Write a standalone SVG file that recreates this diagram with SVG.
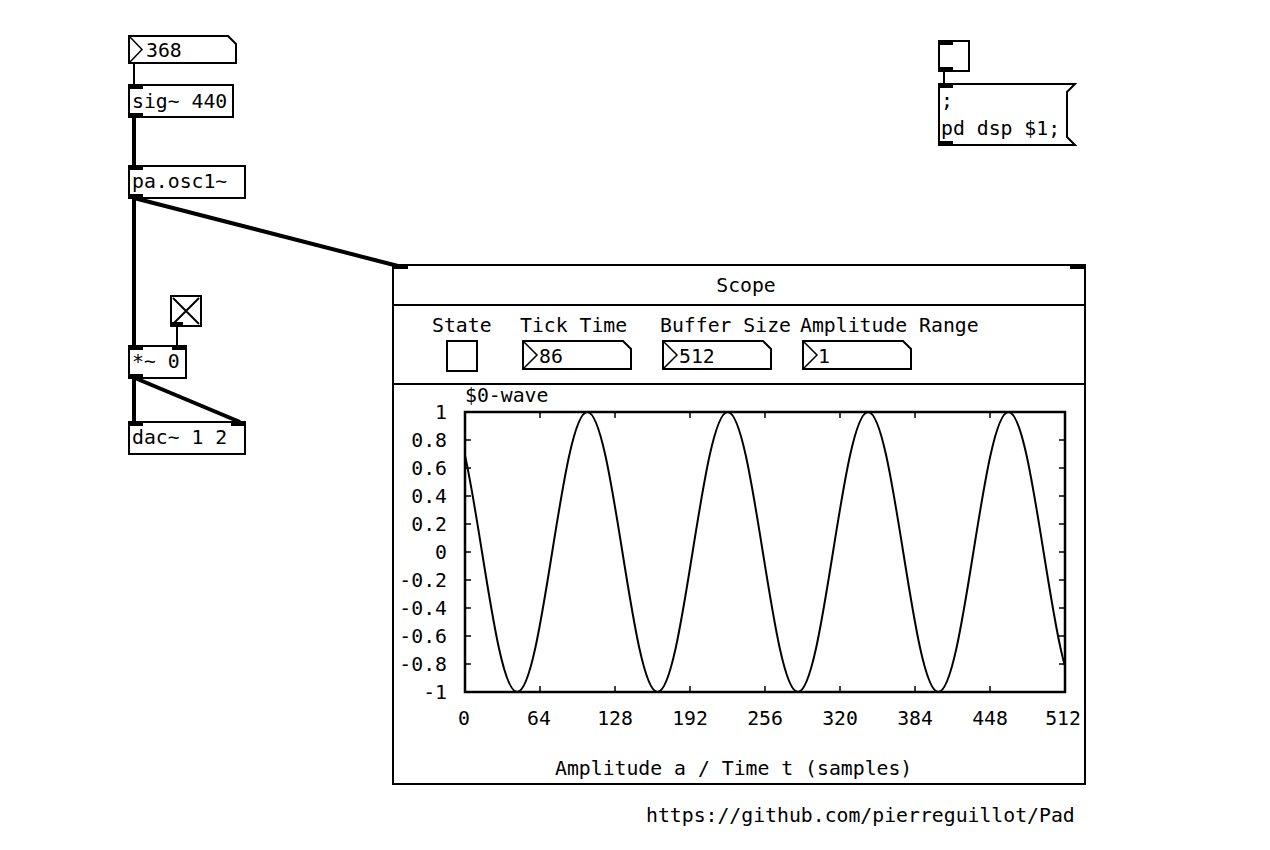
<svg xmlns="http://www.w3.org/2000/svg" width="1270" height="850" viewBox="0 0 1270 850">
<style>
.box{fill:#fff;stroke:#000;stroke-width:2}
.io{fill:#000}
.sig{stroke:#000;stroke-width:4;fill:none}
.ctl{stroke:#000;stroke-width:2;fill:none}
.thin{stroke:#000;stroke-width:1.5;fill:none}
.tick{stroke:#000;stroke-width:1.5;fill:none}
text{font-family:"DejaVu Sans Mono","Liberation Mono",monospace;font-size:19.8px;fill:#000}
.mid{text-anchor:middle}
.end{text-anchor:end}
</style>
<defs>
<clipPath id="graphclip"><rect x="465" y="400" width="600" height="300"/></clipPath>
</defs>
<rect width="1270" height="850" fill="#fff"/>

<g id="connectors">
<path class="ctl" d="M134,63 V85"/>
<path class="sig" d="M134,117 V166"/>
<path class="sig" d="M134,198 V346"/>
<path class="sig" d="M134,198 L398,266"/>
<path class="ctl" d="M177,326 V346"/>
<path class="sig" d="M134,378 V422"/>
<path class="sig" d="M135,378 L240,422"/>
<path class="ctl" d="M944,71 V84"/>
</g>

<g id="num368">
<path class="box" d="M129,36 H228 L236,44 V63 H129 Z"/>
<path class="thin" d="M130,37 L142,49.5 L130,62"/>
<text x="146" y="57">368</text>
</g>

<g id="sig440">
<rect class="box" x="129" y="85" width="104" height="32"/>
<rect class="io" x="129" y="85" width="14" height="4"/>
<rect class="io" x="129" y="113" width="14" height="4"/>
<text x="132" y="108">sig~ 440</text>
</g>

<g id="paosc1">
<rect class="box" x="129" y="166" width="116" height="32"/>
<rect class="io" x="129" y="166" width="14" height="4"/>
<rect class="io" x="129" y="194" width="14" height="4"/>
<text x="132" y="188">pa.osc1~</text>
</g>

<g id="toggleX">
<rect class="box" x="171" y="296" width="30" height="30"/>
<path class="ctl" d="M173,298 L199,324 M199,298 L173,324"/>
<rect class="io" x="171" y="322" width="12" height="4"/>
</g>

<g id="mul0">
<rect class="box" x="129" y="346" width="57" height="32"/>
<rect class="io" x="129" y="346" width="14" height="4"/>
<rect class="io" x="172" y="346" width="14" height="4"/>
<rect class="io" x="129" y="374" width="14" height="4"/>
<text x="132" y="368">*~ 0</text>
</g>

<g id="dac">
<rect class="box" x="129" y="422" width="116" height="32"/>
<rect class="io" x="129" y="422" width="14" height="4"/>
<rect class="io" x="231" y="422" width="14" height="4"/>
<text x="132" y="444">dac~ 1 2</text>
</g>

<g id="toggleDsp">
<rect class="box" x="939" y="41" width="30" height="30"/>
<rect class="io" x="939" y="41" width="14" height="4"/>
<rect class="io" x="939" y="67" width="14" height="4"/>
</g>

<g id="msgDsp">
<path class="box" d="M939,84 H1075 L1067,92 V137 L1075,145 H939 Z"/>
<rect class="io" x="939" y="84" width="14" height="4"/>
<rect class="io" x="939" y="141" width="14" height="4"/>
<text x="941" y="107">;</text>
<text x="941" y="135">pd dsp $1;</text>
</g>

<g id="scope">
<rect class="box" x="393" y="265" width="692" height="519"/>
<rect class="io" x="393" y="265" width="15" height="4"/>
<rect class="io" x="1070" y="265" width="15" height="4"/>
<text class="mid" x="746" y="292">Scope</text>
<path class="ctl" d="M393,305 H1085 M393,384 H1085"/>
<text x="432" y="332">State</text>
<text x="520" y="332">Tick Time</text>
<text x="660" y="332">Buffer Size</text>
<text x="800" y="332">Amplitude Range</text>
<rect class="box" x="447" y="341" width="30" height="30"/>
<path class="box" d="M523,341 H623 L631,349 V369 H523 Z"/>
<path class="thin" d="M524,342 L537,355 L524,368"/>
<text x="539" y="363">86</text>
<path class="box" d="M663,341 H763 L771,349 V369 H663 Z"/>
<path class="thin" d="M664,342 L677,355 L664,368"/>
<text x="679" y="363">512</text>
<path class="box" d="M803,341 H903 L911,349 V369 H803 Z"/>
<path class="thin" d="M804,342 L817,355 L804,368"/>
<text x="818" y="363">1</text>
</g>

<g id="graph">
<text x="465" y="402">$0-wave</text>
<rect x="465" y="412" width="600" height="280" fill="none" stroke="#000" stroke-width="2.5"/>
<path class="tick" d="M540,692v-6M615,692v-6M690,692v-6M765,692v-6M840,692v-6M915,692v-6M990,692v-6
M540,412v6M615,412v6M690,412v6M765,412v6M840,412v6M915,412v6M990,412v6
M465,440h6M465,468h6M465,496h6M465,524h6M465,552h6M465,580h6M465,608h6M465,636h6M465,664h6
M1065,440h-6M1065,468h-6M1065,496h-6M1065,524h-6M1065,552h-6M1065,580h-6M1065,608h-6M1065,636h-6M1065,664h-6"/>
<path clip-path="url(#graphclip)" fill="none" stroke="#000" stroke-width="2" d="M446.9,412
C472.4,412 491.6,692 517.1,692
C542.6,692 561.8,412 587.3,412
C612.8,412 632,692 657.5,692
C683,692 702.2,412 727.7,412
C753.2,412 772.4,692 797.9,692
C823.4,692 842.6,412 868.1,412
C893.6,412 912.8,692 938.3,692
C963.8,692 983,412 1008.5,412
C1034,412 1053.2,692 1078.7,692"/>
<text class="end" x="447" y="419">1</text>
<text class="end" x="447" y="447">0.8</text>
<text class="end" x="447" y="475">0.6</text>
<text class="end" x="447" y="503">0.4</text>
<text class="end" x="447" y="531">0.2</text>
<text class="end" x="447" y="559">0</text>
<text class="end" x="447" y="587">-0.2</text>
<text class="end" x="447" y="615">-0.4</text>
<text class="end" x="447" y="643">-0.6</text>
<text class="end" x="447" y="671">-0.8</text>
<text class="end" x="447" y="699">-1</text>
<text class="mid" x="464" y="725">0</text>
<text class="mid" x="539" y="725">64</text>
<text class="mid" x="615" y="725">128</text>
<text class="mid" x="690" y="725">192</text>
<text class="mid" x="765" y="725">256</text>
<text class="mid" x="840" y="725">320</text>
<text class="mid" x="915" y="725">384</text>
<text class="mid" x="990" y="725">448</text>
<text class="mid" x="1063" y="725">512</text>
<text x="555" y="775">Amplitude a / Time t (samples)</text>
</g>

<text x="646" y="822">https://github.com/pierreguillot/Pad</text>
</svg>
